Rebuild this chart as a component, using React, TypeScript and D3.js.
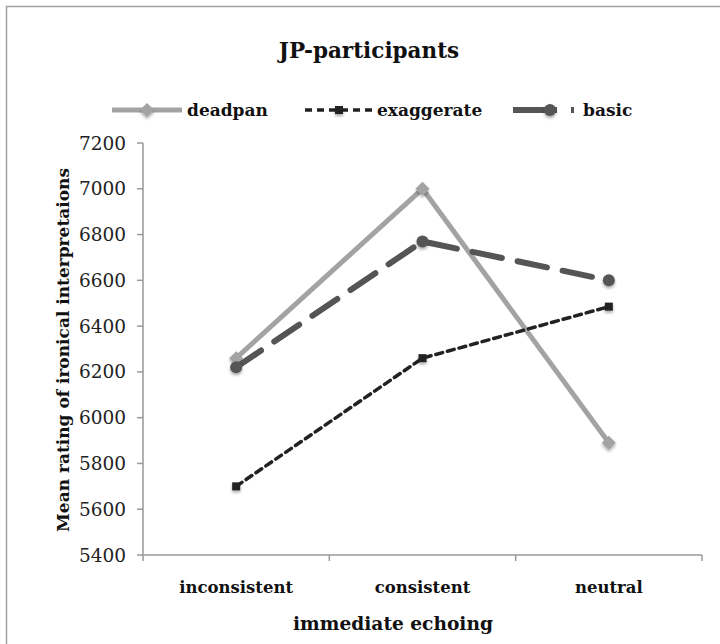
import React from "react";
import * as d3 from "d3";

const categories = ["inconsistent", "consistent", "neutral"];
const deadpan = [6260, 7000, 5890];
const exaggerate = [5700, 6260, 6485];
const basic = [6220, 6770, 6600];
const yTicks = [5400, 5600, 5800, 6000, 6200, 6400, 6600, 6800, 7000, 7200];

const W = 720, H = 644;
const serif = "'DejaVu Serif', 'Liberation Serif', serif";

export default function App() {
  const x = d3.scaleBand<string>().domain(categories).range([143, 702]);
  const y = d3.scaleLinear().domain([5400, 7200]).range([555, 143]);
  const cx = (c: string) => (x(c) as number) + x.bandwidth() / 2;
  const line = d3.line<number>().x((_, i) => cx(categories[i])).y((v) => y(v));

  const series = [
    { name: "deadpan", data: deadpan, color: "#a3a3a3", width: 5, dash: "none", marker: "diamond" },
    { name: "exaggerate", data: exaggerate, color: "#222", width: 3.5, dash: "7,5", marker: "square" },
    { name: "basic", data: basic, color: "#555", width: 6, dash: "30,16", marker: "circle" },
  ];

  const marker = (type: string, px: number, py: number, color: string, key: string) => {
    if (type === "circle") return <circle key={key} cx={px} cy={py} r={6} fill={color} filter="url(#sh)" />;
    if (type === "square") return <rect key={key} x={px - 4} y={py - 4} width={8} height={8} fill={color} filter="url(#sh)" />;
    return <path key={key} d={`M${px},${py - 7}L${px + 7},${py}L${px},${py + 7}L${px - 7},${py}Z`} fill={color} filter="url(#sh)" />;
  };

  const legendItems = [
    { s: series[0], x0: 112, x1: 182, tx: 187 },
    { s: series[1], x0: 305, x1: 373, tx: 377 },
    { s: series[2], x0: 513, x1: 580, tx: 583 },
  ];

  return (
    <svg width={W} height={H} style={{ position: "absolute", left: 0, top: 0, background: "#fff" }}>
      <defs>
        <filter id="sh" x="-50%" y="-50%" width="200%" height="200%">
          <feDropShadow dx="0" dy="2" stdDeviation="1.5" floodColor="#000" floodOpacity="0.35" />
        </filter>
      </defs>
      <rect x={6.5} y={6.5} width={720} height={700} fill="#fff" stroke="#a0a0a0" strokeWidth={1.5} />
      <text x={369} y={58} textAnchor="middle" fontFamily={serif} fontWeight="bold" fontSize={21.5} fill="#111">
        JP-participants
      </text>
      {legendItems.map(({ s, x0, x1, tx }) => (
        <g key={s.name}>
          <line x1={x0} x2={x1} y1={110} y2={110} stroke={s.color} strokeWidth={s.width}
            strokeDasharray={s.name === "basic" ? "44,14,3,30" : s.dash} />
          {marker(s.marker, s.name === "basic" ? x0 + 37 : (x0 + x1) / 2, 110, s.color, "m")}
          <text x={tx} y={116} fontFamily={serif} fontWeight="bold" fontSize={17} fill="#111">{s.name}</text>
        </g>
      ))}
      {/* y axis */}
      <line x1={143} x2={143} y1={143} y2={555} stroke="#999" strokeWidth={1.5} />
      {yTicks.map((t) => (
        <g key={t}>
          <line x1={137} x2={143} y1={y(t)} y2={y(t)} stroke="#999" strokeWidth={1.5} />
          <text x={126} y={y(t) + 6.5} textAnchor="end" fontFamily={serif} fontSize={18.5} fill="#222">{t}</text>
        </g>
      ))}
      {/* x axis */}
      <line x1={143} x2={702} y1={555} y2={555} stroke="#999" strokeWidth={1.5} />
      {[143, ...categories.map((c) => (x(c) as number) + x.bandwidth())].map((px, i) => (
        <line key={i} x1={px} x2={px} y1={555} y2={561} stroke="#999" strokeWidth={1.5} />
      ))}
      {categories.map((c) => (
        <text key={c} x={cx(c)} y={593} textAnchor="middle" fontFamily={serif} fontWeight="bold" fontSize={16.5} fill="#111">{c}</text>
      ))}
      <text x={393} y={630} textAnchor="middle" fontFamily={serif} fontWeight="bold" fontSize={18.6} fill="#111">immediate echoing</text>
      <text transform="translate(69,350) rotate(-90)" textAnchor="middle" fontFamily={serif} fontWeight="bold" fontSize={17} fill="#111">
        Mean rating of ironical interpretaions
      </text>
      {series.map((s) => (
        <g key={s.name}>
          <path d={line(s.data) as string} fill="none" stroke={s.color} strokeWidth={s.width}
            strokeDasharray={s.dash} strokeLinecap={s.name === "deadpan" ? "butt" : "round"} strokeLinejoin="round" />
          {s.data.map((v, i) => marker(s.marker, cx(categories[i]), y(v), s.color, s.name + i))}
        </g>
      ))}
    </svg>
  );
}
